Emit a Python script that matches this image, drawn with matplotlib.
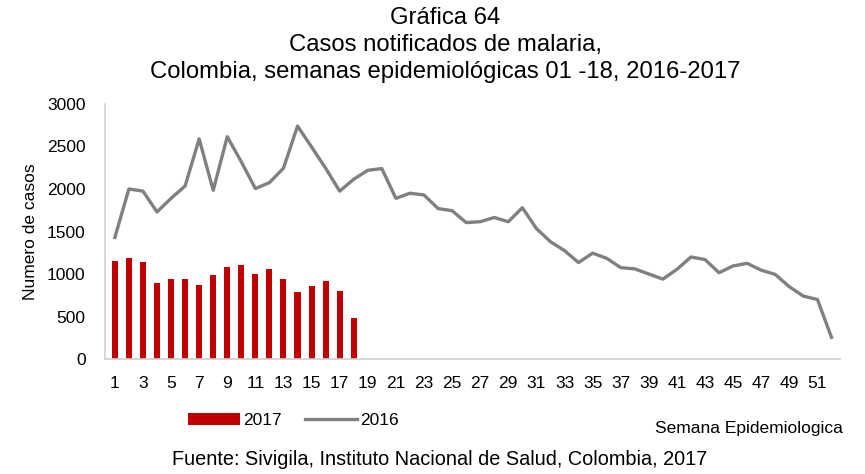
import matplotlib
matplotlib.use("Agg")
import matplotlib.pyplot as plt
import numpy as np

# weekly malaria case counts
weeks_2016 = np.arange(1, 53)
cases_2016 = [1430, 2000, 1975, 1730, 1890, 2035, 2590, 1985, 2615, 2320,
              2005, 2075, 2245, 2740, 2495, 2245, 1975, 2115, 2220, 2240,
              1890, 1950, 1930, 1770, 1745, 1605, 1615, 1665, 1615, 1780,
              1535, 1380, 1275, 1135, 1245, 1185, 1075, 1060, 1000, 940,
              1055, 1200, 1170, 1015, 1095, 1125, 1045, 995, 850, 740,
              700, 255]
weeks_2017 = np.arange(1, 19)
cases_2017 = [1150, 1190, 1140, 890, 940, 940, 870, 985, 1080, 1105,
              1000, 1060, 940, 790, 855, 920, 800, 480]

xtick_weeks = list(range(1, 52, 2))
yticks = [0, 500, 1000, 1500, 2000, 2500, 3000]

plt.rcParams["font.family"] = ["Liberation Sans", "DejaVu Sans"]

fig = plt.figure(figsize=(8.65, 4.74), dpi=100)
ax = fig.add_axes([0.1214, 0.2426, 0.8496, 0.538])

bars = ax.bar(weeks_2017, cases_2017, width=0.43, color="#C00000", label="2017", zorder=2)
line, = ax.plot(weeks_2016, cases_2016, color="#808080", lw=2.4, label="2016", zorder=3)

ax.set_xlim(0.3, 52.6)
ax.set_ylim(0, 3000)
ax.set_xticks(xtick_weeks)
ax.set_yticks(yticks)
ax.tick_params(axis="both", length=0, labelsize=12.5, colors="black")
ax.tick_params(axis="x", pad=12)
ax.tick_params(axis="y", pad=14)
for s in ("top", "right"):
    ax.spines[s].set_visible(False)
for s in ("left", "bottom"):
    ax.spines[s].set_color("#d0d0d0")
    ax.spines[s].set_linewidth(1.2)

ax.set_ylabel("Numero de casos", fontsize=12.5, labelpad=6)

fig.text(0.515, 0.962, "Gráfica 64", ha="center", va="center", fontsize=17.2)
fig.text(0.515, 0.905, "Casos notificados de malaria,", ha="center", va="center", fontsize=17.2)
fig.text(0.515, 0.848, "Colombia, semanas epidemiológicas 01 -18, 2016-2017",
         ha="center", va="center", fontsize=17.2)

fig.legend([bars, line], ["2017", "2016"], loc="center", bbox_to_anchor=(0.339, 0.113),
           ncol=2, frameon=False, fontsize=12.5, handlelength=3.0,
           handletextpad=0.2, columnspacing=1.3)
fig.text(0.866, 0.097, "Semana Epidemiologica", ha="center", va="center", fontsize=12.5)
fig.text(0.508, 0.030, "Fuente: Sivigila, Instituto Nacional de Salud, Colombia, 2017",
         ha="center", va="center", fontsize=14.3)

fig.savefig("out.png", dpi=100)
